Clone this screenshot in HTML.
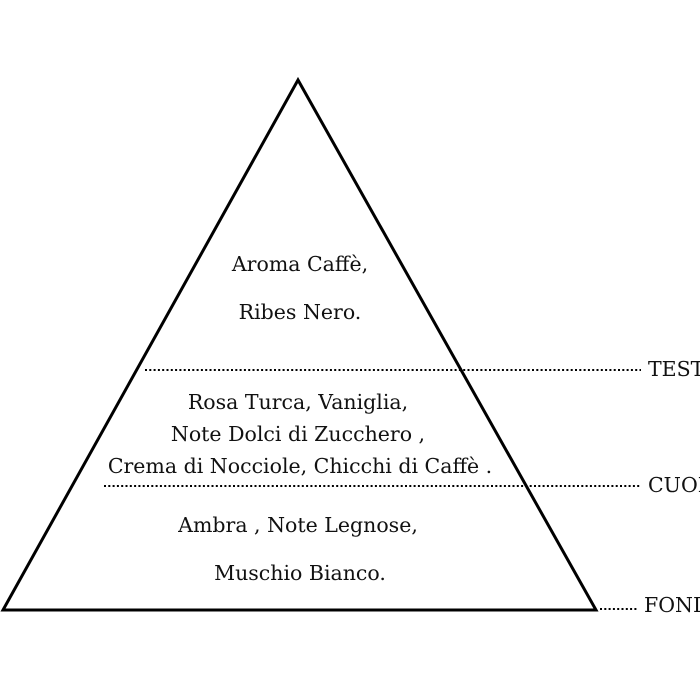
<!DOCTYPE html>
<html><head><style>
html,body{margin:0;padding:0;background:#fff;width:700px;height:700px;overflow:hidden}
svg text{font-family:"DejaVu Serif","Liberation Serif",serif;font-size:20.5px;fill:#111}
</style></head><body>
<svg width="700" height="700" viewBox="0 0 700 700" xmlns="http://www.w3.org/2000/svg">
<polygon points="298,80 3,610 596,610" fill="none" stroke="#000" stroke-width="3" stroke-linejoin="miter"/>
<g stroke="#000" stroke-width="2" stroke-dasharray="2,2.3">
<line x1="145" y1="370" x2="641" y2="370"/>
<line x1="104" y1="486" x2="641" y2="486"/>
<line x1="600" y1="609" x2="638" y2="609"/>
</g>
<g text-anchor="middle">
<text x="300" y="271">Aroma Caffè,</text>
<text x="300" y="319">Ribes Nero.</text>
<text x="298" y="409">Rosa Turca, Vaniglia,</text>
<text x="298" y="441">Note Dolci di Zucchero ,</text>
<text x="300" y="473">Crema di Nocciole, Chicchi di Caffè .</text>
<text x="298" y="532">Ambra , Note Legnose,</text>
<text x="300" y="580">Muschio Bianco.</text>
</g>
<text x="648" y="376">TESTA</text>
<text x="648" y="492">CUORE</text>
<text x="644" y="612">FONDO</text>
</svg>
</body></html>
